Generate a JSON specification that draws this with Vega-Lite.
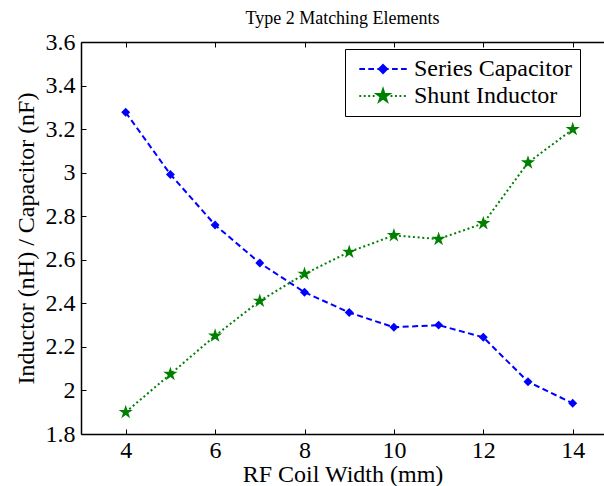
{
  "$schema": "https://vega.github.io/schema/vega-lite/v6.json",
  "width": 523,
  "height": 392,
  "autosize": "none",
  "padding": {"left": 81, "top": 42, "right": 0, "bottom": 52},
  "background": "white",
  "config": {
    "view": {"stroke": null},
    "font": "Liberation Serif",
    "axis": {
      "domainColor": "black", "tickColor": "black", "labelColor": "black", "titleColor": "black",
      "grid": false, "labelFont": "Liberation Serif", "titleFont": "Liberation Serif",
      "labelFontSize": 24, "titleFontSize": 24, "titleFontWeight": "normal",
      "domainWidth": 1.5, "tickWidth": 1, "tickSize": -5
    }
  },
  "title": {"text": "Type 2 Matching Elements", "fontSize": 18, "fontWeight": "normal", "font": "Liberation Serif", "color": "black", "offset": 2},
  "data": {"values": [
    {"x": 4, "v": 3.277, "series": "Series Capacitor"},
    {"x": 5, "v": 2.992, "series": "Series Capacitor"},
    {"x": 6, "v": 2.760, "series": "Series Capacitor"},
    {"x": 7, "v": 2.585, "series": "Series Capacitor"},
    {"x": 8, "v": 2.451, "series": "Series Capacitor"},
    {"x": 9, "v": 2.358, "series": "Series Capacitor"},
    {"x": 10, "v": 2.290, "series": "Series Capacitor"},
    {"x": 11, "v": 2.300, "series": "Series Capacitor"},
    {"x": 12, "v": 2.244, "series": "Series Capacitor"},
    {"x": 13, "v": 2.040, "series": "Series Capacitor"},
    {"x": 14, "v": 1.941, "series": "Series Capacitor"},
    {"x": 4, "v": 1.900, "series": "Shunt Inductor"},
    {"x": 5, "v": 2.075, "series": "Shunt Inductor"},
    {"x": 6, "v": 2.251, "series": "Shunt Inductor"},
    {"x": 7, "v": 2.411, "series": "Shunt Inductor"},
    {"x": 8, "v": 2.535, "series": "Shunt Inductor"},
    {"x": 9, "v": 2.636, "series": "Shunt Inductor"},
    {"x": 10, "v": 2.712, "series": "Shunt Inductor"},
    {"x": 11, "v": 2.695, "series": "Shunt Inductor"},
    {"x": 12, "v": 2.767, "series": "Shunt Inductor"},
    {"x": 13, "v": 3.046, "series": "Shunt Inductor"},
    {"x": 14, "v": 3.199, "series": "Shunt Inductor"}
  ]},
  "layer": [
    {
      "mark": {"type": "line", "strokeWidth": 2},
      "encoding": {
        "x": {"field": "x", "type": "quantitative",
              "scale": {"domain": [3, 14.7], "nice": false, "zero": false},
              "axis": {"orient": "bottom", "values": [4, 6, 8, 10, 12, 14], "title": "RF Coil Width (mm)", "labelPadding": 9, "titlePadding": 0}},
        "y": {"field": "v", "type": "quantitative",
              "scale": {"domain": [1.8, 3.6], "nice": false, "zero": false},
              "axis": {"values": [1.8, 2, 2.2, 2.4, 2.6, 2.8, 3, 3.2, 3.4, 3.6], "format": "~g", "title": "Inductor (nH) / Capacitor (nF)", "labelPadding": 11, "titlePadding": 7}},
        "color": {"field": "series", "type": "nominal", "scale": {"range": ["#0000ff", "#008000"]}, "legend": null},
        "strokeDash": {"field": "series", "type": "nominal", "scale": {"range": [[6, 3.5], [2, 2.7]]}, "legend": null}
      }
    },
    {
      "transform": [{"filter": "datum.series == 'Series Capacitor'"}],
      "mark": {"type": "point", "filled": true, "opacity": 1, "size": 80, "shape": "diamond", "color": "#0000ff"},
      "encoding": {
        "x": {"field": "x", "type": "quantitative", "axis": null},
        "y": {"field": "v", "type": "quantitative"}
      }
    },
    {
      "transform": [{"filter": "datum.series == 'Shunt Inductor'"}],
      "mark": {"type": "point", "filled": true, "opacity": 1, "size": 80, "color": "#008000",
               "shape": "M0,-1.67L0.375,-0.516L1.588,-0.516L0.606,0.197L0.982,1.351L0,0.638L-0.982,1.351L-0.606,0.197L-1.588,-0.516L-0.375,-0.516Z"},
      "encoding": {
        "x": {"field": "x", "type": "quantitative", "axis": null},
        "y": {"field": "v", "type": "quantitative"}
      }
    },
    {
      "transform": [{"filter": "datum.x < 0"}],
      "mark": {"type": "point", "filled": true, "opacity": 1},
      "encoding": {
        "x": {"field": "x", "type": "quantitative",
              "axis": {"orient": "top", "labels": false, "title": null, "values": [4, 6, 8, 10, 12, 14]}},
        "y": {"field": "v", "type": "quantitative"},
        "fill": {"field": "series", "type": "nominal",
                 "scale": {"domain": ["Series Capacitor", "Shunt Inductor"], "range": ["#0000ff", "#008000"]},
                 "legend": {"title": null, "orient": "none", "legendX": 264, "legendY": 7}},
        "stroke": {"field": "series", "type": "nominal",
                 "scale": {"domain": ["Series Capacitor", "Shunt Inductor"], "range": ["#0000ff", "#008000"]},
                 "legend": {"title": null, "orient": "none", "legendX": 264, "legendY": 7}},
        "shape": {"field": "series", "type": "nominal",
                  "scale": {"domain": ["Series Capacitor", "Shunt Inductor"], "range": [
                    "M-1.2,0H0M0.7,0H1.9M2.6,0H5M5.7,0H6.9M7.6,0H8.8M3.8,-0.85L4.65,0L3.8,0.85L2.95,0Z",
                    "M-1.2,0H-0.8M-0.26,0H0.14M0.68,0H1.08M1.62,0H2.02M5.38,0H5.78M6.32,0H6.72M7.26,0H7.66M8.2,0H8.6M3.8,-1.4L4.114,-0.433L5.131,-0.433L4.308,0.165L4.623,1.133L3.8,0.535L2.977,1.133L3.292,0.165L2.469,-0.433L3.486,-0.433Z"
                  ]},
                  "legend": {
                    "title": null, "orient": "none", "legendX": 264, "legendY": 7,
                    "strokeColor": "black", "fillColor": "white", "padding": 8,
                    "symbolSize": 90, "symbolStrokeWidth": 2, "symbolOpacity": 1,
                    "labelFontSize": 24, "labelFont": "Liberation Serif", "labelColor": "black",
                    "labelOffset": 37, "rowPadding": 3, "labelLimit": 400
                  }}
      }
    }
  ],
  "resolve": {"axis": {"x": "independent"}}
}
